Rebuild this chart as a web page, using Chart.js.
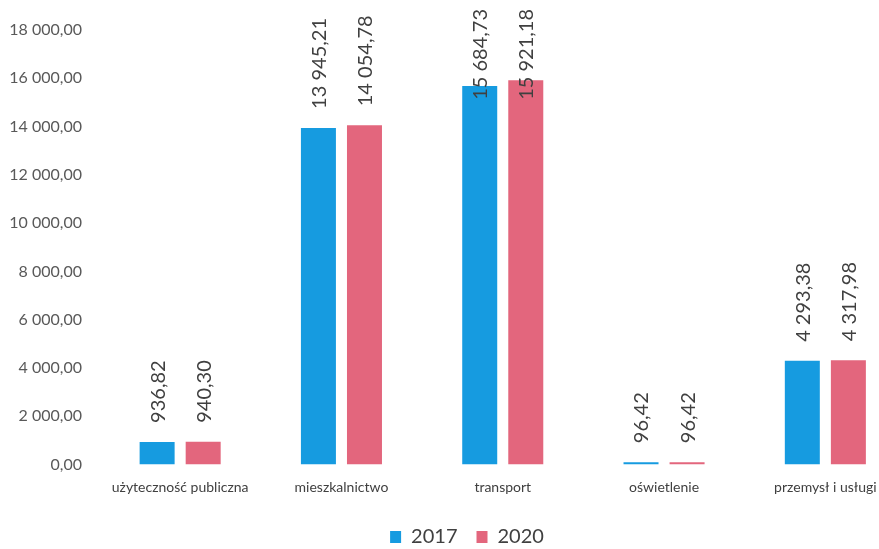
<!DOCTYPE html>
<html lang="pl">
<head>
<meta charset="utf-8">
<title>Zużycie energii wg sektorów</title>
<script src="https://cdn.jsdelivr.net/npm/chart.js@4.4.1/dist/chart.umd.min.js"></script>
<style>
  html, body { margin: 0; padding: 0; background: #fff; overflow: hidden; }
  canvas { display: block; }
</style>
</head>
<body>
<canvas id="energyChart" width="906" height="549"></canvas>
<script>
// sectors and values for both years
const categories = ['użyteczność publiczna', 'mieszkalnictwo', 'transport', 'oświetlenie', 'przemysł i usługi'];
const values2017 = [936.82, 13945.21, 15684.73, 96.42, 4293.38];
const values2020 = [940.30, 14054.78, 15921.18, 96.42, 4317.98];
const yTicks = [0, 2000, 4000, 6000, 8000, 10000, 12000, 14000, 16000, 18000];

const FONT = 'Lato';

// "13 945,21" style number format
function formatPl(n) {
    const parts = n.toFixed(2).split('.');
    const whole = parts[0].replace(/\B(?=(\d{3})+(?!\d))/g, ' ');
    return whole + ',' + parts[1];
}

// rotated value labels above each bar, pushed down when they hit the top edge
const valueLabels = {
    id: 'valueLabels',
    afterDatasetsDraw(chart) {
        const ctx = chart.ctx;
        ctx.save();
        ctx.font = '20px ' + FONT;
        ctx.fillStyle = '#404040';
        ctx.textAlign = 'left';
        ctx.textBaseline = 'middle';
        chart.data.datasets.forEach((ds, i) => {
            chart.getDatasetMeta(i).data.forEach((bar, j) => {
                const text = formatPl(ds.data[j]);
                const w = ctx.measureText(text).width;
                let start = bar.y - 19;
                if (start - w < 9) start = 9 + w;
                ctx.save();
                ctx.translate(bar.x + 1, start);
                ctx.rotate(-Math.PI / 2);
                ctx.fillText(text, 0, 0);
                ctx.restore();
            });
        });
        ctx.restore();
    }
};

// nudge the legend a little to the right of the canvas centre
const legendShift = {
    id: 'legendShift',
    afterLayout(chart) {
        if (chart.legend) {
            chart.legend.left += 14;
            chart.legend.right += 14;
        }
    }
};

const ctx = document.getElementById('energyChart').getContext('2d');
new Chart(ctx, {
    type: 'bar',
    data: {
        labels: categories,
        datasets: [
            { label: '2017', data: values2017, backgroundColor: '#169BE0' },
            { label: '2020', data: values2020, backgroundColor: '#E3667D' }
        ]
    },
    options: {
        responsive: false,
        animation: false,
        categoryPercentage: 0.571,
        barPercentage: 0.76,
        layout: { padding: { top: 30, left: 0, right: 0, bottom: -8 } },
        plugins: {
            legend: {
                position: 'bottom',
                labels: {
                    boxWidth: 11,
                    boxHeight: 12,
                    padding: 19,
                    color: '#404040',
                    font: { family: FONT, size: 20 }
                }
            },
            tooltip: { enabled: false }
        },
        scales: {
            x: {
                grid: { display: false, drawTicks: false },
                border: { display: false },
                ticks: {
                    padding: 15,
                    color: '#404040',
                    font: { family: FONT, size: 14 },
                    maxRotation: 0
                },
                afterFit: scale => { scale.height = 43.5; }
            },
            y: {
                min: 0,
                max: 18000,
                grid: { display: false, drawTicks: false },
                border: { display: false },
                afterBuildTicks: scale => { scale.ticks = yTicks.map(v => ({ value: v })); },
                ticks: {
                    padding: 17.5,
                    color: '#595959',
                    font: { family: FONT, size: 16 },
                    callback: v => formatPl(v)
                },
                afterFit: scale => { scale.width = 99.5; }
            }
        }
    },
    plugins: [valueLabels, legendShift]
});
</script>
</body>
</html>
